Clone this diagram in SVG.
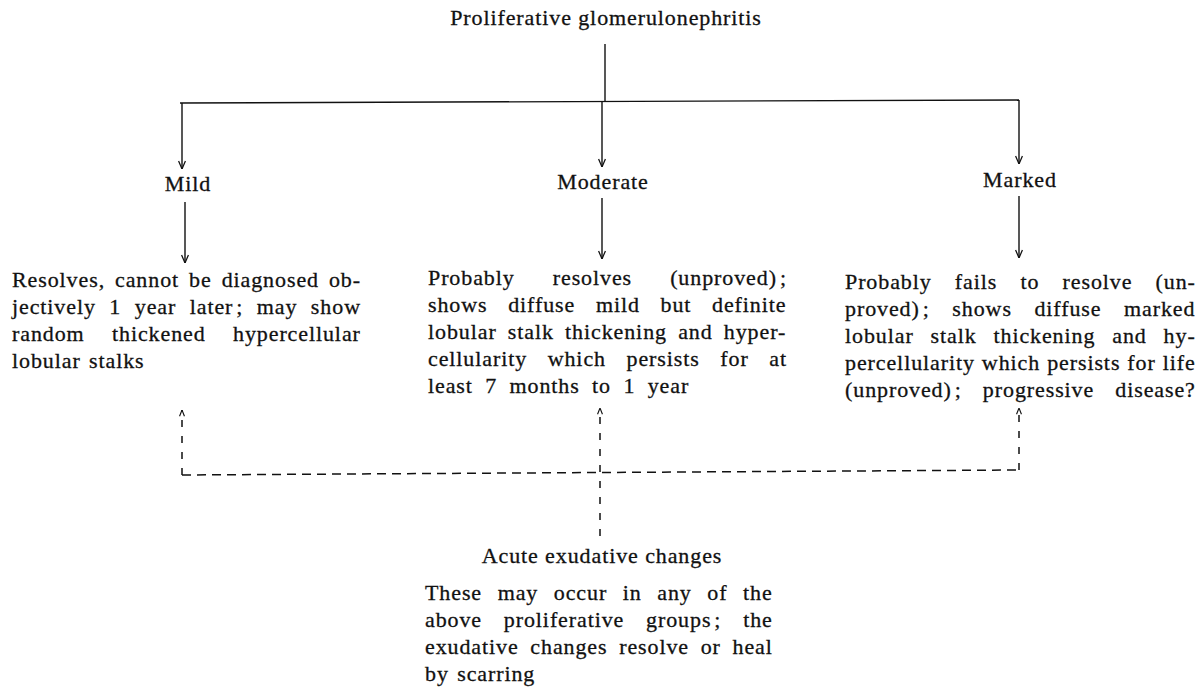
<svg xmlns="http://www.w3.org/2000/svg" width="1199" height="688" viewBox="0 0 1199 688">
<defs>
<style>
text{font-family:"Liberation Serif","Times New Roman",serif;font-size:22px;letter-spacing:0.9px;fill:#111;stroke:#111;stroke-width:0.3px}
.c{text-anchor:middle}
.ln{stroke:#111;stroke-width:1.4;fill:none}
.dh{stroke:#111;stroke-width:1.5;fill:none;stroke-dasharray:9 6}
.dv{stroke:#111;stroke-width:1.5;fill:none;stroke-dasharray:7 9}
</style>
<marker id="ah" viewBox="0 0 10 10" refX="10" refY="5" markerWidth="9" markerHeight="9" orient="auto" markerUnits="userSpaceOnUse">
<path d="M1,1.2 L10,5 L1,8.8" fill="none" stroke="#111" stroke-width="1.4" stroke-dasharray="none"/>
</marker>
<marker id="ahs" viewBox="0 0 10 10" refX="10" refY="5" markerWidth="7" markerHeight="7" orient="auto" markerUnits="userSpaceOnUse">
<path d="M1,1.5 L10,5 L1,8.5" fill="none" stroke="#111" stroke-width="1.6" stroke-dasharray="none"/>
</marker>
</defs>
<rect width="1199" height="688" fill="#fff"/>

<g id="connectors">
<line class="ln" x1="605" y1="44" x2="605" y2="101"/>
<line class="ln" x1="180" y1="103" x2="1019" y2="100"/>
<line class="ln" x1="182" y1="103" x2="182" y2="169" marker-end="url(#ah)"/>
<line class="ln" x1="602" y1="102" x2="602" y2="167" marker-end="url(#ah)"/>
<line class="ln" x1="1019" y1="100" x2="1019" y2="164" marker-end="url(#ah)"/>
<line class="ln" x1="185" y1="202" x2="185" y2="263" marker-end="url(#ah)"/>
<line class="ln" x1="602" y1="198" x2="602" y2="259" marker-end="url(#ah)"/>
<line class="ln" x1="1019" y1="196" x2="1019" y2="258" marker-end="url(#ah)"/>
<line class="dh" x1="182" y1="475" x2="1019" y2="470"/>
<line class="dv" x1="182" y1="475" x2="182" y2="410" marker-end="url(#ahs)"/>
<line class="dv" x1="600" y1="536" x2="600" y2="408" marker-end="url(#ahs)"/>
<line class="dv" x1="1019" y1="470" x2="1019" y2="408" marker-end="url(#ahs)"/>
</g>

<g id="root">
<text class="c" x="606" y="25">Proliferative glomerulonephritis</text>
</g>

<g id="mild">
<text class="c" x="188" y="191">Mild</text>
</g>
<g id="moderate">
<text class="c" x="603" y="189">Moderate</text>
</g>
<g id="marked">
<text class="c" x="1020" y="187">Marked</text>
</g>

<g id="mild-outcome">
<text x="12" y="287" style="word-spacing:3.6px">Resolves, cannot be diagnosed ob-</text>
<text x="12" y="314" style="word-spacing:7.1px">jectively 1 year later<tspan dx="3">;</tspan> may show</text>
<text x="12" y="341" style="word-spacing:21px">random thickened hypercellular</text>
<text x="12" y="368" style="word-spacing:2px">lobular stalks</text>
</g>

<g id="moderate-outcome">
<text x="428" y="285" style="word-spacing:31.7px">Probably resolves (unproved)<tspan dx="3">;</tspan></text>
<text x="428" y="312" style="word-spacing:14.3px">shows diffuse mild but definite</text>
<text x="428" y="339" style="word-spacing:4.8px">lobular stalk thickening and hyper-</text>
<text x="428" y="366" style="word-spacing:14.2px">cellularity which persists for at</text>
<text x="428" y="393" style="word-spacing:6px">least 7 months to 1 year</text>
</g>

<g id="marked-outcome">
<text x="845" y="289" style="word-spacing:16.8px">Probably fails to resolve (un-</text>
<text x="845" y="316" style="word-spacing:16.2px">proved)<tspan dx="3">;</tspan> shows diffuse marked</text>
<text x="845" y="343" style="word-spacing:10.5px">lobular stalk thickening and hy-</text>
<text x="845" y="370" style="word-spacing:0.6px">percellularity which persists for life</text>
<text x="845" y="397" style="word-spacing:14.7px">(unproved)<tspan dx="3">;</tspan> progressive disease?</text>
</g>

<g id="acute">
<text class="c" x="602" y="563">Acute exudative changes</text>
<text x="425" y="600" style="word-spacing:9.2px">These may occur in any of the</text>
<text x="425" y="627" style="word-spacing:15.4px">above proliferative groups<tspan dx="3">;</tspan> the</text>
<text x="425" y="654" style="word-spacing:5.3px">exudative changes resolve or heal</text>
<text x="425" y="681" style="word-spacing:2px">by scarring</text>
</g>
</svg>
